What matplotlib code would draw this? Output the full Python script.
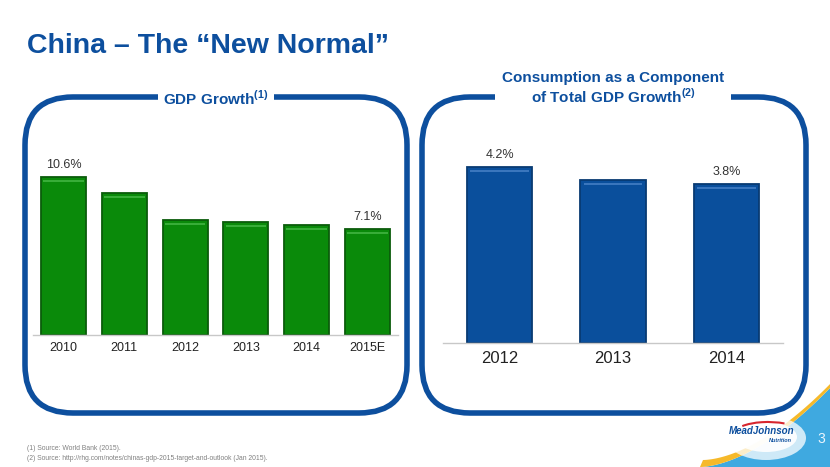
import numpy as np
import matplotlib
matplotlib.use("Agg")
import matplotlib.pyplot as plt
from matplotlib.patches import FancyBboxPatch, Polygon, Ellipse, Arc

plt.rcParams['font.family'] = ['Liberation Sans', 'DejaVu Sans']
plt.rcParams['mathtext.fontset'] = 'custom'
plt.rcParams['mathtext.rm'] = 'Liberation Sans'
plt.rcParams['mathtext.bf'] = 'Liberation Sans:bold'

## data
gdp_years = ['2010', '2011', '2012', '2013', '2014', '2015E']
gdp_growth = [10.6, 9.5, 7.7, 7.6, 7.4, 7.1]
gdp_labels = ['10.6%', '', '', '', '', '7.1%']

cons_years = ['2012', '2013', '2014']
cons_growth = [4.2, 3.9, 3.8]
cons_labels = ['4.2%', '', '3.8%']

W, H = 830, 467
BLUE = '#0d4f9e'

fig = plt.figure(figsize=(W / 100, H / 100), dpi=100)
fig.patch.set_facecolor('white')

# background axes in pixel coords (y down)
bg = fig.add_axes([0, 0, 1, 1])
bg.set_xlim(0, W)
bg.set_ylim(H, 0)
bg.axis('off')

## title
bg.text(27, 46, 'China \u2013 The \u201cNew Normal\u201d', fontsize=20.5, fontweight='bold',
        color=BLUE, va='center', ha='left')

## rounded panels
for x0, x1 in [(25, 407), (422, 806)]:
    box = FancyBboxPatch((x0, 97), x1 - x0, 316, boxstyle='round,pad=0,rounding_size=48',
                         fill=False, edgecolor=BLUE, linewidth=4.0, zorder=2)
    bg.add_patch(box)

bg.text(216, 98, 'GDP Growth$^{\\mathbf{(1)}}$', fontsize=11, fontweight='bold', color=BLUE,
        ha='center', va='center', zorder=3,
        bbox=dict(facecolor='white', edgecolor='none', pad=4))
bg.text(613, 88, 'Consumption as a Component\nof Total GDP Growth$^{\\mathbf{(2)}}$', fontsize=11,
        fontweight='bold', color=BLUE, ha='center', va='center', linespacing=1.15, zorder=3,
        bbox=dict(facecolor='white', edgecolor='none', pad=5))

## footnotes
bg.text(27, 449, '(1) Source: World Bank (2015).', fontsize=4.9, color='#808080', va='center')
bg.text(27, 458, '(2) Source: http://rhg.com/notes/chinas-gdp-2015-target-and-outlook (Jan 2015).',
        fontsize=4.9, color='#808080', va='center')

## corner swoosh
t = np.linspace(0, 1, 80)
cx = 700 + 130 * t
cy = 467 - 79 * t ** 1.7
blue_poly = np.vstack([np.column_stack([cx, cy]), [[W, H], [700, H]]])
bg.add_patch(Polygon(blue_poly, closed=True, facecolor='#3fa9e0', edgecolor='none', zorder=1))
band = np.vstack([np.column_stack([cx, cy]), np.column_stack([cx[::-1] + 3, cy[::-1] - 7])])
bg.add_patch(Polygon(band, closed=True, facecolor='#f6b92a', edgecolor='none', zorder=1))
bg.add_patch(Ellipse((766, 438), 80, 44, facecolor='white', edgecolor='none', alpha=0.75, zorder=1))
bg.add_patch(Ellipse((766, 437), 62, 30, facecolor='white', edgecolor='none', alpha=0.9, zorder=1))
bg.add_patch(Arc((768, 433), 66, 22, theta1=195, theta2=330, color='#d7262e', linewidth=1.5, zorder=3))
bg.text(762, 431, 'MeadJohnson', fontsize=7, fontweight='bold', style='italic', color=BLUE,
        ha='center', va='center', zorder=4)
bg.text(780, 440, 'Nutrition', fontsize=4, fontweight='bold', style='italic', color=BLUE,
        ha='center', va='center', zorder=4)
bg.text(821, 439, '3', fontsize=10, color='#eaf5fd', ha='center', va='center', zorder=3)


def px_axes(x0, x1, ytop, ybase):
    return fig.add_axes([x0 / W, 1 - ybase / H, (x1 - x0) / W, (ybase - ytop) / H])


def draw_bars(ax, cats, vals, labels, width, color, edge, hi, px_per_unit, fs_tick, fs_lab, tick_pad):
    x = np.arange(len(cats))
    ax.bar(x, vals, width=width, color=color, edgecolor=edge, linewidth=1.3, zorder=2)
    top = np.array(vals)
    ax.bar(x, 2.0 / px_per_unit, bottom=top - 5.0 / px_per_unit, width=width * 0.9,
           color=hi, edgecolor='none', zorder=3)
    for xi, v, lab in zip(x, vals, labels):
        if lab:
            ax.text(xi, v + 6 / px_per_unit, lab, ha='center', va='bottom', fontsize=fs_lab,
                    color='#333333')
    ax.set_xlim(-0.5, len(cats) - 0.5)
    ax.set_xticks(x)
    ax.set_xticklabels(cats, fontsize=fs_tick, color='#222222')
    ax.tick_params(axis='x', length=0, pad=tick_pad)
    ax.set_yticks([])
    for s in ['top', 'right', 'left']:
        ax.spines[s].set_visible(False)
    ax.spines['bottom'].set_color('#c8c8c8')
    ax.spines['bottom'].set_linewidth(1.0)
    ax.patch.set_alpha(0)


## left chart: GDP growth
ax1 = px_axes(33, 398, 150, 335)
ppu1 = 14.93
ax1.set_ylim(0, 185 / ppu1)
draw_bars(ax1, gdp_years, gdp_growth, gdp_labels, 0.74, '#0a8a0a', '#0b5c0b', '#38ad38',
          ppu1, 9, 9, 5)

## right chart: consumption component
ax2 = px_axes(443, 783, 150, 342.7)
ppu2 = 41.76
ax2.set_ylim(0, 192.7 / ppu2)
draw_bars(ax2, cons_years, cons_growth, cons_labels, 0.575, '#0a4f9c', '#083a72', '#3a76bd',
          ppu2, 12, 9, 6)

fig.savefig('out.png', dpi=100, facecolor='white')
